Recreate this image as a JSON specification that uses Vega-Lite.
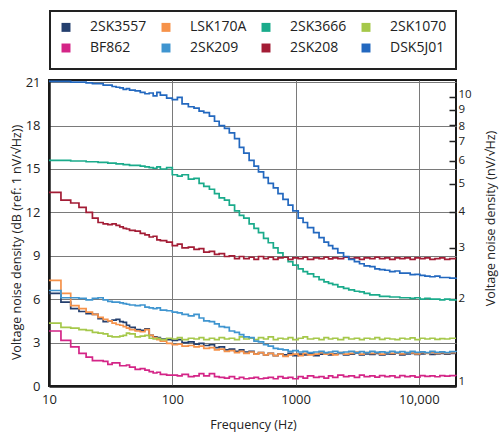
{
  "$schema": "https://vega.github.io/schema/vega-lite/v6.json",
  "width": 407,
  "height": 306,
  "autosize": "none",
  "padding": {"left": 49, "top": 80, "right": 44, "bottom": 49},
  "background": "white",
  "config": {
    "font": "Open Sans",
    "view": {"stroke": "#1a1a1a", "strokeWidth": 2},
    "axis": {
      "labelFontSize": 13,
      "labelColor": "#222",
      "titleFontSize": 12.5,
      "titleFontWeight": "normal",
      "titleColor": "#222",
      "gridColor": "#7a7a7a",
      "gridWidth": 1,
      "gridOpacity": 1,
      "domainColor": "#1a1a1a",
      "domainWidth": 2.5
    },
    "legend": {
      "labelFontSize": 14,
      "labelColor": "#222",
      "strokeColor": "#222",
      "strokeWidth": 2
    }
  },
  "layer": [
    {
      "data": {
        "values": [
          {"f": 10, "2SK3557": 6.4, "LSK170A": 7.3, "2SK3666": 15.6, "2SK1070": 4.35, "BF862": 3.8, "2SK209": 6.6, "2SK208": 13.38, "DSK5J01": 21.05},
          {"f": 12.5, "2SK3557": 5.8, "LSK170A": 6.4, "2SK3666": 15.6, "2SK1070": 4.05, "BF862": 3.15, "2SK209": 6.1, "2SK208": 12.85, "DSK5J01": 21.05},
          {"f": 15, "2SK3557": 5.35, "LSK170A": 5.55, "2SK3666": 15.55, "2SK1070": 4.0, "BF862": 2.7, "2SK209": 6.1, "2SK208": 12.65, "DSK5J01": 21.0},
          {"f": 17.5, "2SK3557": 5.15, "LSK170A": 5.35, "2SK3666": 15.55, "2SK1070": 3.9, "BF862": 2.25, "2SK209": 6.05, "2SK208": 12.35, "DSK5J01": 21.0},
          {"f": 20, "2SK3557": 5.0, "LSK170A": 5.1, "2SK3666": 15.5, "2SK1070": 3.85, "BF862": 2.0, "2SK209": 5.95, "2SK208": 12.0, "DSK5J01": 20.95},
          {"f": 22.5, "2SK3557": 4.95, "LSK170A": 4.95, "2SK3666": 15.5, "2SK1070": 3.7, "BF862": 1.75, "2SK209": 6.05, "2SK208": 11.6, "DSK5J01": 20.9},
          {"f": 25, "2SK3557": 4.65, "LSK170A": 4.75, "2SK3666": 15.45, "2SK1070": 3.65, "BF862": 1.75, "2SK209": 6.1, "2SK208": 11.3, "DSK5J01": 20.9},
          {"f": 27.5, "2SK3557": 4.45, "LSK170A": 4.6, "2SK3666": 15.45, "2SK1070": 3.6, "BF862": 1.7, "2SK209": 5.95, "2SK208": 11.2, "DSK5J01": 20.8},
          {"f": 30, "2SK3557": 4.5, "LSK170A": 4.5, "2SK3666": 15.4, "2SK1070": 3.45, "BF862": 1.5, "2SK209": 5.85, "2SK208": 11.15, "DSK5J01": 20.8},
          {"f": 32.5, "2SK3557": 4.55, "LSK170A": 4.35, "2SK3666": 15.4, "2SK1070": 3.4, "BF862": 1.6, "2SK209": 5.8, "2SK208": 11.2, "DSK5J01": 20.7},
          {"f": 35, "2SK3557": 4.6, "LSK170A": 4.25, "2SK3666": 15.35, "2SK1070": 3.4, "BF862": 1.6, "2SK209": 5.8, "2SK208": 11.1, "DSK5J01": 20.65},
          {"f": 37.5, "2SK3557": 4.45, "LSK170A": 4.2, "2SK3666": 15.35, "2SK1070": 3.45, "BF862": 1.4, "2SK209": 5.75, "2SK208": 11.0, "DSK5J01": 20.6},
          {"f": 40, "2SK3557": 4.4, "LSK170A": 4.1, "2SK3666": 15.3, "2SK1070": 3.5, "BF862": 1.4, "2SK209": 5.7, "2SK208": 10.9, "DSK5J01": 20.5},
          {"f": 42.5, "2SK3557": 4.2, "LSK170A": 4.0, "2SK3666": 15.3, "2SK1070": 3.65, "BF862": 1.45, "2SK209": 5.65, "2SK208": 10.85, "DSK5J01": 20.55},
          {"f": 45, "2SK3557": 4.05, "LSK170A": 3.9, "2SK3666": 15.25, "2SK1070": 3.6, "BF862": 1.3, "2SK209": 5.6, "2SK208": 10.75, "DSK5J01": 20.45},
          {"f": 50, "2SK3557": 3.9, "LSK170A": 3.8, "2SK3666": 15.25, "2SK1070": 3.4, "BF862": 1.15, "2SK209": 5.55, "2SK208": 10.7, "DSK5J01": 20.4},
          {"f": 55, "2SK3557": 3.85, "LSK170A": 3.75, "2SK3666": 15.2, "2SK1070": 3.45, "BF862": 1.2, "2SK209": 5.6, "2SK208": 10.55, "DSK5J01": 20.3},
          {"f": 60, "2SK3557": 3.95, "LSK170A": 3.9, "2SK3666": 15.15, "2SK1070": 3.5, "BF862": 1.1, "2SK209": 5.45, "2SK208": 10.45, "DSK5J01": 20.2},
          {"f": 65, "2SK3557": 3.5, "LSK170A": 3.5, "2SK3666": 15.1, "2SK1070": 3.3, "BF862": 1.0, "2SK209": 5.4, "2SK208": 10.3, "DSK5J01": 20.25},
          {"f": 70, "2SK3557": 3.4, "LSK170A": 3.35, "2SK3666": 15.05, "2SK1070": 3.25, "BF862": 0.9, "2SK209": 5.35, "2SK208": 10.35, "DSK5J01": 20.05},
          {"f": 75, "2SK3557": 3.35, "LSK170A": 3.2, "2SK3666": 15.15, "2SK1070": 3.3, "BF862": 0.95, "2SK209": 5.4, "2SK208": 10.1, "DSK5J01": 20.3},
          {"f": 80, "2SK3557": 3.25, "LSK170A": 3.1, "2SK3666": 15.0, "2SK1070": 3.2, "BF862": 0.8, "2SK209": 5.25, "2SK208": 10.05, "DSK5J01": 20.1},
          {"f": 90, "2SK3557": 3.2, "LSK170A": 2.95, "2SK3666": 15.1, "2SK1070": 3.3, "BF862": 0.75, "2SK209": 5.2, "2SK208": 9.95, "DSK5J01": 19.9},
          {"f": 100, "2SK3557": 3.15, "LSK170A": 2.85, "2SK3666": 14.6, "2SK1070": 3.25, "BF862": 0.75, "2SK209": 5.1, "2SK208": 9.7, "DSK5J01": 19.8},
          {"f": 110, "2SK3557": 3.2, "LSK170A": 2.9, "2SK3666": 14.5, "2SK1070": 3.35, "BF862": 0.7, "2SK209": 5.05, "2SK208": 9.8, "DSK5J01": 19.95},
          {"f": 120, "2SK3557": 3.0, "LSK170A": 2.75, "2SK3666": 14.6, "2SK1070": 3.2, "BF862": 0.8, "2SK209": 4.95, "2SK208": 9.55, "DSK5J01": 19.5},
          {"f": 135, "2SK3557": 3.05, "LSK170A": 2.8, "2SK3666": 14.3, "2SK1070": 3.3, "BF862": 0.65, "2SK209": 4.85, "2SK208": 9.6, "DSK5J01": 19.3},
          {"f": 150, "2SK3557": 2.9, "LSK170A": 2.7, "2SK3666": 14.35, "2SK1070": 3.25, "BF862": 0.7, "2SK209": 4.95, "2SK208": 9.45, "DSK5J01": 19.2},
          {"f": 165, "2SK3557": 2.95, "LSK170A": 2.75, "2SK3666": 14.0, "2SK1070": 3.35, "BF862": 0.85, "2SK209": 4.7, "2SK208": 9.5, "DSK5J01": 19.0},
          {"f": 180, "2SK3557": 2.8, "LSK170A": 2.6, "2SK3666": 13.8, "2SK1070": 3.2, "BF862": 0.7, "2SK209": 4.5, "2SK208": 9.25, "DSK5J01": 18.9},
          {"f": 200, "2SK3557": 2.85, "LSK170A": 2.65, "2SK3666": 13.6, "2SK1070": 3.3, "BF862": 0.85, "2SK209": 4.45, "2SK208": 9.3, "DSK5J01": 18.65},
          {"f": 220, "2SK3557": 2.65, "LSK170A": 2.5, "2SK3666": 13.3, "2SK1070": 3.2, "BF862": 0.65, "2SK209": 4.3, "2SK208": 9.1, "DSK5J01": 18.3},
          {"f": 240, "2SK3557": 2.7, "LSK170A": 2.55, "2SK3666": 13.0, "2SK1070": 3.35, "BF862": 0.6, "2SK209": 4.1, "2SK208": 9.15, "DSK5J01": 18.0},
          {"f": 265, "2SK3557": 2.5, "LSK170A": 2.4, "2SK3666": 12.85, "2SK1070": 3.25, "BF862": 0.55, "2SK209": 4.05, "2SK208": 8.95, "DSK5J01": 17.8},
          {"f": 290, "2SK3557": 2.55, "LSK170A": 2.45, "2SK3666": 12.5, "2SK1070": 3.3, "BF862": 0.65, "2SK209": 3.8, "2SK208": 9.0, "DSK5J01": 17.5},
          {"f": 320, "2SK3557": 2.4, "LSK170A": 2.3, "2SK3666": 12.1, "2SK1070": 3.2, "BF862": 0.5, "2SK209": 3.7, "2SK208": 8.8, "DSK5J01": 17.1},
          {"f": 350, "2SK3557": 2.5, "LSK170A": 2.4, "2SK3666": 11.8, "2SK1070": 3.4, "BF862": 0.6, "2SK209": 3.55, "2SK208": 8.95, "DSK5J01": 16.5},
          {"f": 380, "2SK3557": 2.35, "LSK170A": 2.25, "2SK3666": 11.6, "2SK1070": 3.25, "BF862": 0.5, "2SK209": 3.4, "2SK208": 8.8, "DSK5J01": 16.1},
          {"f": 420, "2SK3557": 2.4, "LSK170A": 2.35, "2SK3666": 11.2, "2SK1070": 3.3, "BF862": 0.55, "2SK209": 3.35, "2SK208": 8.9, "DSK5J01": 15.6},
          {"f": 460, "2SK3557": 2.2, "LSK170A": 2.2, "2SK3666": 10.9, "2SK1070": 3.2, "BF862": 0.6, "2SK209": 3.1, "2SK208": 8.75, "DSK5J01": 15.2},
          {"f": 500, "2SK3557": 2.3, "LSK170A": 2.3, "2SK3666": 10.6, "2SK1070": 3.35, "BF862": 0.5, "2SK209": 3.05, "2SK208": 8.95, "DSK5J01": 14.8},
          {"f": 550, "2SK3557": 2.15, "LSK170A": 2.15, "2SK3666": 10.2, "2SK1070": 3.25, "BF862": 0.55, "2SK209": 2.85, "2SK208": 8.8, "DSK5J01": 14.4},
          {"f": 600, "2SK3557": 2.25, "LSK170A": 2.25, "2SK3666": 9.9, "2SK1070": 3.4, "BF862": 0.6, "2SK209": 2.75, "2SK208": 8.9, "DSK5J01": 14.0},
          {"f": 660, "2SK3557": 2.1, "LSK170A": 2.1, "2SK3666": 9.55, "2SK1070": 3.2, "BF862": 0.5, "2SK209": 2.6, "2SK208": 8.75, "DSK5J01": 13.7},
          {"f": 720, "2SK3557": 2.2, "LSK170A": 2.2, "2SK3666": 9.2, "2SK1070": 3.3, "BF862": 0.65, "2SK209": 2.55, "2SK208": 8.85, "DSK5J01": 13.3},
          {"f": 790, "2SK3557": 2.15, "LSK170A": 2.05, "2SK3666": 8.9, "2SK1070": 3.25, "BF862": 0.55, "2SK209": 2.5, "2SK208": 8.9, "DSK5J01": 12.9},
          {"f": 870, "2SK3557": 2.25, "LSK170A": 2.15, "2SK3666": 8.6, "2SK1070": 3.35, "BF862": 0.6, "2SK209": 2.4, "2SK208": 8.75, "DSK5J01": 12.5},
          {"f": 950, "2SK3557": 2.1, "LSK170A": 2.2, "2SK3666": 8.35, "2SK1070": 3.2, "BF862": 0.5, "2SK209": 2.45, "2SK208": 8.85, "DSK5J01": 12.1},
          {"f": 1050, "2SK3557": 2.2, "LSK170A": 2.1, "2SK3666": 8.1, "2SK1070": 3.3, "BF862": 0.65, "2SK209": 2.35, "2SK208": 8.8, "DSK5J01": 11.6},
          {"f": 1150, "2SK3557": 2.15, "LSK170A": 2.25, "2SK3666": 7.9, "2SK1070": 3.4, "BF862": 0.55, "2SK209": 2.4, "2SK208": 8.9, "DSK5J01": 11.3},
          {"f": 1250, "2SK3557": 2.25, "LSK170A": 2.15, "2SK3666": 7.75, "2SK1070": 3.25, "BF862": 0.7, "2SK209": 2.3, "2SK208": 8.75, "DSK5J01": 10.95},
          {"f": 1400, "2SK3557": 2.1, "LSK170A": 2.2, "2SK3666": 7.55, "2SK1070": 3.3, "BF862": 0.6, "2SK209": 2.35, "2SK208": 8.85, "DSK5J01": 10.6},
          {"f": 1550, "2SK3557": 2.2, "LSK170A": 2.3, "2SK3666": 7.35, "2SK1070": 3.2, "BF862": 0.65, "2SK209": 2.4, "2SK208": 8.8, "DSK5J01": 10.25},
          {"f": 1700, "2SK3557": 2.25, "LSK170A": 2.2, "2SK3666": 7.2, "2SK1070": 3.35, "BF862": 0.55, "2SK209": 2.3, "2SK208": 8.9, "DSK5J01": 9.95},
          {"f": 1850, "2SK3557": 2.15, "LSK170A": 2.25, "2SK3666": 7.1, "2SK1070": 3.25, "BF862": 0.7, "2SK209": 2.35, "2SK208": 8.78, "DSK5J01": 9.7},
          {"f": 2000, "2SK3557": 2.2, "LSK170A": 2.15, "2SK3666": 7.0, "2SK1070": 3.3, "BF862": 0.6, "2SK209": 2.4, "2SK208": 8.85, "DSK5J01": 9.5},
          {"f": 2200, "2SK3557": 2.25, "LSK170A": 2.3, "2SK3666": 6.85, "2SK1070": 3.2, "BF862": 0.75, "2SK209": 2.3, "2SK208": 8.8, "DSK5J01": 9.2},
          {"f": 2450, "2SK3557": 2.15, "LSK170A": 2.2, "2SK3666": 6.75, "2SK1070": 3.35, "BF862": 0.65, "2SK209": 2.35, "2SK208": 8.9, "DSK5J01": 8.95},
          {"f": 2700, "2SK3557": 2.2, "LSK170A": 2.25, "2SK3666": 6.65, "2SK1070": 3.25, "BF862": 0.7, "2SK209": 2.4, "2SK208": 8.8, "DSK5J01": 8.75},
          {"f": 3000, "2SK3557": 2.28, "LSK170A": 2.35, "2SK3666": 6.55, "2SK1070": 3.3, "BF862": 0.6, "2SK209": 2.3, "2SK208": 8.85, "DSK5J01": 8.6},
          {"f": 3300, "2SK3557": 2.15, "LSK170A": 2.2, "2SK3666": 6.5, "2SK1070": 3.2, "BF862": 0.75, "2SK209": 2.38, "2SK208": 8.75, "DSK5J01": 8.45},
          {"f": 3600, "2SK3557": 2.22, "LSK170A": 2.3, "2SK3666": 6.4, "2SK1070": 3.3, "BF862": 0.65, "2SK209": 2.3, "2SK208": 8.85, "DSK5J01": 8.3},
          {"f": 4000, "2SK3557": 2.18, "LSK170A": 2.25, "2SK3666": 6.3, "2SK1070": 3.25, "BF862": 0.7, "2SK209": 2.4, "2SK208": 8.8, "DSK5J01": 8.25},
          {"f": 4400, "2SK3557": 2.25, "LSK170A": 2.3, "2SK3666": 6.3, "2SK1070": 3.35, "BF862": 0.62, "2SK209": 2.32, "2SK208": 8.9, "DSK5J01": 8.1},
          {"f": 4800, "2SK3557": 2.15, "LSK170A": 2.2, "2SK3666": 6.2, "2SK1070": 3.22, "BF862": 0.72, "2SK209": 2.36, "2SK208": 8.8, "DSK5J01": 8.05},
          {"f": 5300, "2SK3557": 2.22, "LSK170A": 2.3, "2SK3666": 6.2, "2SK1070": 3.3, "BF862": 0.65, "2SK209": 2.3, "2SK208": 8.85, "DSK5J01": 8.0},
          {"f": 5800, "2SK3557": 2.2, "LSK170A": 2.25, "2SK3666": 6.15, "2SK1070": 3.25, "BF862": 0.7, "2SK209": 2.4, "2SK208": 8.75, "DSK5J01": 7.9},
          {"f": 6400, "2SK3557": 2.28, "LSK170A": 2.3, "2SK3666": 6.15, "2SK1070": 3.2, "BF862": 0.6, "2SK209": 2.33, "2SK208": 8.85, "DSK5J01": 7.95},
          {"f": 7000, "2SK3557": 2.15, "LSK170A": 2.22, "2SK3666": 6.1, "2SK1070": 3.3, "BF862": 0.72, "2SK209": 2.37, "2SK208": 8.8, "DSK5J01": 7.8},
          {"f": 7700, "2SK3557": 2.22, "LSK170A": 2.3, "2SK3666": 6.1, "2SK1070": 3.25, "BF862": 0.65, "2SK209": 2.3, "2SK208": 8.85, "DSK5J01": 7.8},
          {"f": 8500, "2SK3557": 2.25, "LSK170A": 2.28, "2SK3666": 6.05, "2SK1070": 3.32, "BF862": 0.7, "2SK209": 2.4, "2SK208": 8.75, "DSK5J01": 7.7},
          {"f": 9300, "2SK3557": 2.18, "LSK170A": 2.22, "2SK3666": 6.1, "2SK1070": 3.2, "BF862": 0.62, "2SK209": 2.32, "2SK208": 8.85, "DSK5J01": 7.72},
          {"f": 10200, "2SK3557": 2.22, "LSK170A": 2.3, "2SK3666": 6.0, "2SK1070": 3.3, "BF862": 0.72, "2SK209": 2.36, "2SK208": 8.8, "DSK5J01": 7.65},
          {"f": 11200, "2SK3557": 2.28, "LSK170A": 2.25, "2SK3666": 6.05, "2SK1070": 3.25, "BF862": 0.66, "2SK209": 2.3, "2SK208": 8.85, "DSK5J01": 7.6},
          {"f": 12300, "2SK3557": 2.18, "LSK170A": 2.32, "2SK3666": 6.0, "2SK1070": 3.3, "BF862": 0.7, "2SK209": 2.4, "2SK208": 8.75, "DSK5J01": 7.55},
          {"f": 13500, "2SK3557": 2.22, "LSK170A": 2.25, "2SK3666": 6.0, "2SK1070": 3.22, "BF862": 0.64, "2SK209": 2.33, "2SK208": 8.8, "DSK5J01": 7.6},
          {"f": 14800, "2SK3557": 2.25, "LSK170A": 2.3, "2SK3666": 5.95, "2SK1070": 3.28, "BF862": 0.72, "2SK209": 2.36, "2SK208": 8.85, "DSK5J01": 7.5},
          {"f": 16200, "2SK3557": 2.2, "LSK170A": 2.25, "2SK3666": 6.0, "2SK1070": 3.25, "BF862": 0.68, "2SK209": 2.3, "2SK208": 8.75, "DSK5J01": 7.5},
          {"f": 17800, "2SK3557": 2.25, "LSK170A": 2.3, "2SK3666": 5.95, "2SK1070": 3.3, "BF862": 0.72, "2SK209": 2.38, "2SK208": 8.8, "DSK5J01": 7.45},
          {"f": 20000, "2SK3557": 2.25, "LSK170A": 2.3, "2SK3666": 6.0, "2SK1070": 3.3, "BF862": 0.7, "2SK209": 2.35, "2SK208": 8.8, "DSK5J01": 7.5}
        ]
      },
      "transform": [
        {"fold": ["2SK3557", "LSK170A", "2SK3666", "2SK1070", "BF862", "2SK209", "2SK208", "DSK5J01"], "as": ["part", "db"]}
      ],
      "mark": {"type": "line", "interpolate": "step-after", "strokeWidth": 1.7},
      "encoding": {
        "x": {
          "field": "f",
          "type": "quantitative",
          "scale": {"type": "log", "domain": [10, 20000], "nice": false},
          "axis": {
            "values": [10, 100, 1000, 10000],
            "labelExpr": "datum.value >= 10000 ? format(datum.value, ',') : format(datum.value, 'd')",
            "ticks": false,
            "labelFlush": false,
            "labelPadding": 7,
            "title": "Frequency (Hz)",
            "titleX": 204,
            "titleY": 38,
            "titleBaseline": "middle",
            "titleAlign": "center"
          }
        },
        "y": {
          "field": "db",
          "type": "quantitative",
          "scale": {"domain": [0, 21.15], "nice": false, "zero": false},
          "axis": {
            "values": [0, 3, 6, 9, 12, 15, 18, 21],
            "ticks": false,
            "labelFlush": false,
            "labelPadding": 9,
            "title": "Voltage noise density (dB (ref: 1 nV/√Hz))",
            "titleAngle": 270,
            "titleX": -33,
            "titleY": 162,
            "titleBaseline": "middle",
            "titleAlign": "center"
          }
        },
        "color": {
          "field": "part",
          "type": "nominal",
          "scale": {
            "domain": ["2SK3557", "LSK170A", "2SK3666", "2SK1070", "BF862", "2SK209", "2SK208", "DSK5J01"],
            "range": ["#243f6e", "#f6924a", "#1aab8b", "#a5c84a", "#d42587", "#3f95d0", "#a31c35", "#2368bf"]
          },
          "legend": {
            "title": null,
            "orient": "none",
            "legendX": 1,
            "legendY": -69,
            "direction": "horizontal",
            "columns": 4,
            "gridAlign": "all",
            "columnPadding": 7,
            "rowPadding": -3,
            "padding": 9,
            "symbolType": "square",
            "symbolSize": 20,
            "symbolStrokeWidth": 4.5,
            "labelOffset": 17
          }
        }
      }
    },
    {
      "data": {"values": [{"nv": 1}, {"nv": 10}]},
      "mark": {"type": "point", "opacity": 0},
      "encoding": {
        "y": {
          "field": "nv",
          "type": "quantitative",
          "scale": {"type": "log", "domain": [1, 11.41], "nice": false},
          "axis": {
            "orient": "right",
            "values": [1, 2, 3, 4, 5, 6, 7, 8, 9, 10],
            "grid": false,
            "domain": false,
            "ticks": true,
            "tickSize": -7,
            "tickWidth": 1.5,
            "tickColor": "#222",
            "labelFontSize": 11.5,
            "labelFlush": true,
            "labelOverlap": false,
            "labelPadding": 9,
            "labelOffset": {
              "condition": [
                {"test": "datum.value == 10", "value": -2},
                {"test": "datum.value == 8", "value": 2}
              ],
              "value": 0
            },
            "title": "Voltage noise density (nV/√Hz)",
            "titleAngle": 270,
            "titleX": 34,
            "titleY": 138,
            "titleBaseline": "middle",
            "titleAlign": "center"
          }
        }
      }
    }
  ],
  "resolve": {"scale": {"y": "independent"}}
}
